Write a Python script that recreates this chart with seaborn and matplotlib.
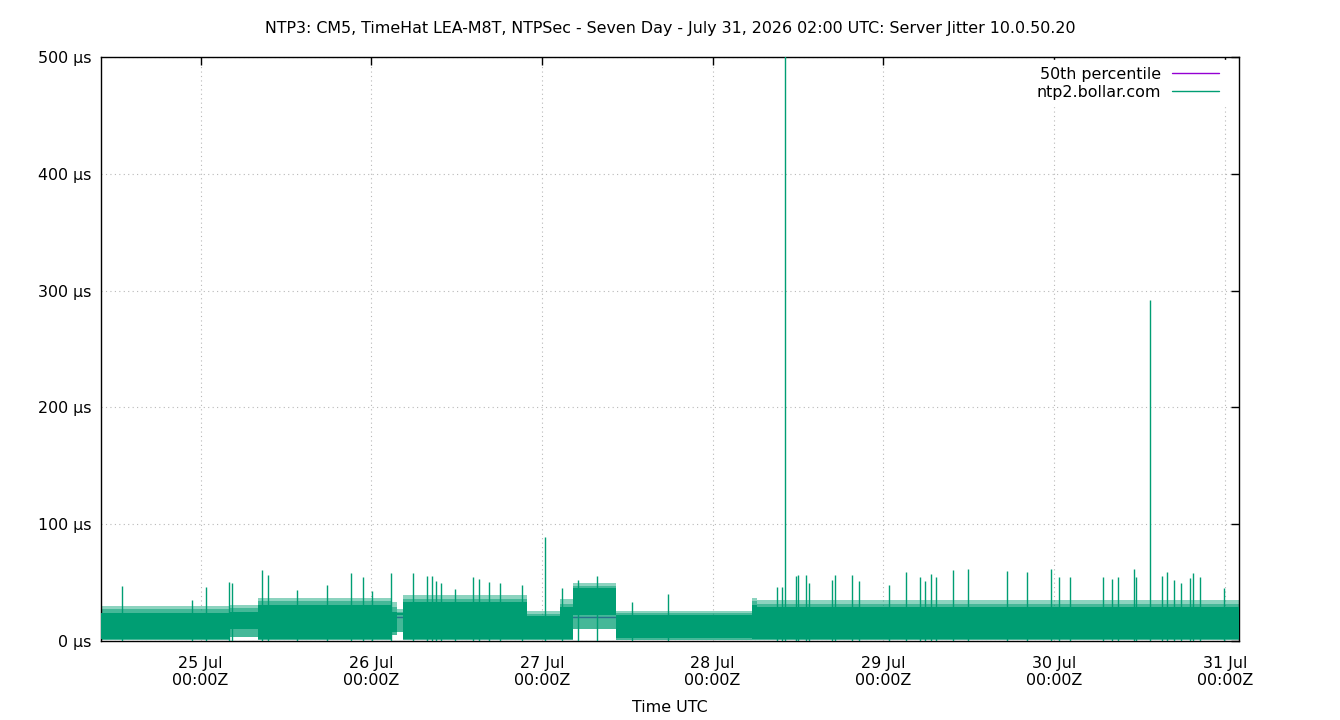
import matplotlib
matplotlib.use("Agg")
import matplotlib.pyplot as plt
import matplotlib.dates as mdates
from matplotlib.lines import Line2D
from matplotlib.ticker import FixedLocator, FuncFormatter
import seaborn as sns
import pandas as pd
import numpy as np

sns.set_theme(style="white")
plt.rcParams['font.family'] = ['DejaVu Sans']
for k in ["text.color", "axes.labelcolor", "xtick.color", "ytick.color"]:
    plt.rcParams[k] = "black"

# ---------------- data ----------------
title = ("NTP3: CM5, TimeHat LEA-M8T, NTPSec - Seven Day - July 31, 2026 02:00 UTC: "
         "Server Jitter 10.0.50.20")
x_start = "2026-07-24 10:00"
x_end = "2026-07-31 02:00"

# dense jitter band, piecewise segments (µs)
seg_start = ["2026-07-24 10:00", "2026-07-25 04:00", "2026-07-25 08:05", "2026-07-26 02:54",
             "2026-07-26 03:40", "2026-07-26 04:24", "2026-07-26 21:54", "2026-07-27 02:30",
             "2026-07-27 04:24", "2026-07-27 10:24", "2026-07-28 05:30", "2026-07-28 06:12"]
seg_end = ["2026-07-25 04:00", "2026-07-25 08:05", "2026-07-26 02:54", "2026-07-26 03:40",
           "2026-07-26 04:24", "2026-07-26 21:54", "2026-07-27 02:30", "2026-07-27 04:24",
           "2026-07-27 10:24", "2026-07-28 05:30", "2026-07-28 06:12", "2026-07-31 02:00"]
core_top = [24, 25, 31, 25, 24, 33, 21, 29, 45, 22, 31, 29]
mid_top = [27, 28, 34, 29, 25, 36, 23, 32, 47, 24, 34, 32]
fringe_top = [30, 31, 37, 33, 27, 39, 26, 36, 50, 26, 37, 35]
core_bottom = [2, 10, 2, 8, 22, 2, 2, 2, 22, 2.5, 2, 2]
fringe_bottom = [0.5, 3, 0.5, 5, 8, 0.5, 0.5, 0.5, 10, 1, 0.5, 0.5]

# isolated spikes
spike_time = ["2026-07-24 12:55", "2026-07-24 22:44", "2026-07-25 00:42", "2026-07-25 04:04",
              "2026-07-25 04:29", "2026-07-25 08:34", "2026-07-25 09:33", "2026-07-25 13:37",
              "2026-07-25 17:49", "2026-07-25 21:11", "2026-07-25 22:53", "2026-07-26 00:08",
              "2026-07-26 02:48", "2026-07-26 05:54", "2026-07-26 07:52", "2026-07-26 08:34",
              "2026-07-26 09:07", "2026-07-26 09:49", "2026-07-26 11:47", "2026-07-26 14:19",
              "2026-07-26 15:10", "2026-07-26 16:34", "2026-07-26 18:06", "2026-07-26 21:11",
              "2026-07-27 00:25", "2026-07-27 02:48", "2026-07-27 05:03", "2026-07-27 07:43",
              "2026-07-27 12:38", "2026-07-27 17:41", "2026-07-28 08:59", "2026-07-28 09:41",
              "2026-07-28 10:14", "2026-07-28 11:39", "2026-07-28 11:56", "2026-07-28 13:11",
              "2026-07-28 13:36", "2026-07-28 16:50", "2026-07-28 17:16", "2026-07-28 19:39",
              "2026-07-28 20:38", "2026-07-29 00:50", "2026-07-29 03:14", "2026-07-29 05:11",
              "2026-07-29 05:53", "2026-07-29 06:44", "2026-07-29 07:26", "2026-07-29 09:49",
              "2026-07-29 11:56", "2026-07-29 17:24", "2026-07-29 20:13", "2026-07-29 23:35",
              "2026-07-30 00:42", "2026-07-30 02:14", "2026-07-30 06:53", "2026-07-30 08:08",
              "2026-07-30 08:59", "2026-07-30 11:14", "2026-07-30 11:31", "2026-07-30 13:28",
              "2026-07-30 15:10", "2026-07-30 15:52", "2026-07-30 16:50", "2026-07-30 17:49",
              "2026-07-30 19:05", "2026-07-30 19:31", "2026-07-30 20:29", "2026-07-30 23:52"]
spike_value = [47, 35, 46, 50.5, 50, 61, 56.5, 44, 48, 58, 55, 43,
               58, 58, 56, 56, 51, 50, 44.5, 55, 53, 50.5, 50, 48,
               89, 45, 52, 56, 33, 40, 46, 46, 505, 56, 56.5, 56.5,
               50, 52, 56.5, 56.5, 51, 48, 59, 55, 51, 57, 55, 61,
               61.6, 60, 59, 61.6, 55, 55, 55, 53, 55, 61.6, 55, 292,
               56, 59, 52, 50, 54, 58, 55, 45]

median_value = 20.3

y_ticks = [0, 100, 200, 300, 400, 500]

green = "#009e73"
purple = "#9400d3"
FS = 11.4

# ---------------- figure ----------------
fig = plt.figure(figsize=(13.4, 7.2), dpi=100)
ax = fig.add_axes([101 / 1340, 79 / 720, 1138 / 1340, 584 / 720])
ax.set_facecolor("white")

# median line (behind data)
med_df = pd.DataFrame({"t": pd.to_datetime([x_start, x_end]),
                       "v": [median_value, median_value]})
sns.lineplot(data=med_df, x="t", y="v", ax=ax, color=purple, lw=1.0, zorder=1)

# band
xs, ct, mt, ft, cb, fb = [], [], [], [], [], []
for s, e, a, m, b, c, d in zip(seg_start, seg_end, core_top, mid_top, fringe_top,
                               core_bottom, fringe_bottom):
    for t in (s, e):
        xs.append(pd.Timestamp(t))
        ct.append(a); mt.append(m); ft.append(b); cb.append(c); fb.append(d)
xs = pd.to_datetime(xs)
ax.fill_between(xs, fb, ft, color=green, alpha=0.45, lw=0, zorder=2)
ax.fill_between(xs, fb, mt, color=green, alpha=0.5, lw=0, zorder=2.5)
ax.fill_between(xs, cb, ct, color=green, alpha=1.0, lw=0, zorder=3)

# spikes
ax.vlines(pd.to_datetime(spike_time), 0, spike_value, color=green, lw=1.0, zorder=4)

ax.set_xlim(pd.Timestamp(x_start), pd.Timestamp(x_end))
ax.set_ylim(0, 500)

ax.yaxis.set_major_locator(FixedLocator(y_ticks))
ax.yaxis.set_major_formatter(FuncFormatter(lambda v, p: f"{int(v)} µs"))
ax.xaxis.set_major_locator(mdates.DayLocator())
ax.xaxis.set_major_formatter(mdates.DateFormatter("%d %b\n%H:%MZ"))

ax.grid(True, color="#b8b8b8", lw=0.8, linestyle=(0, (1, 3)))
ax.set_axisbelow(True)
for sp in ax.spines.values():
    sp.set_visible(True)
    sp.set_color("black")
    sp.set_linewidth(1.0)
ax.tick_params(direction="in", length=6, width=1, top=True, right=True,
               labelsize=FS, colors="black", pad=7)
ax.tick_params(axis="x", pad=10.5)

ax.set_xlabel("Time UTC", fontsize=FS, color="black", labelpad=9)
ax.set_ylabel("")

fig.text(0.5, 1 - 28 / 720, title, ha="center", va="center", fontsize=FS, color="black")

handles = [Line2D([], [], color=purple, lw=1.0), Line2D([], [], color=green, lw=1.0)]
leg = ax.legend(handles, ["50th percentile", "ntp2.bollar.com"], loc="upper right",
                bbox_to_anchor=(1 - 7 / 1138, 1 + 3 / 584),
                markerfirst=False, frameon=True, fontsize=FS, handlelength=3.0,
                borderaxespad=0.4, labelspacing=0.2, handletextpad=0.7)
leg.get_frame().set_facecolor("white")
leg.get_frame().set_edgecolor("white")
leg.get_frame().set_alpha(1.0)
leg.get_frame().set_boxstyle("square", pad=0)
for t in leg.get_texts():
    t.set_color("black")

fig.savefig("out.png", dpi=100, facecolor="white")
